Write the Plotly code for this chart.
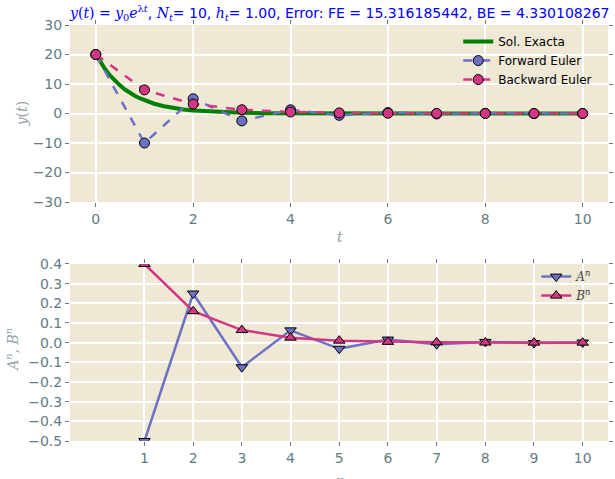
import plotly.graph_objects as go
from plotly.subplots import make_subplots

# ---- data ----
t_nodes = [0, 1, 2, 3, 4, 5, 6, 7, 8, 9, 10]
fe_vals = [20.0, -10.0, 5.0, -2.5, 1.25, -0.625, 0.3125, -0.15625, 0.078125, -0.0390625, 0.01953125]
be_vals = [20.0, 8.0, 3.2, 1.28, 0.512, 0.2048, 0.08192, 0.032768, 0.0131072, 0.00524288, 0.002097152]

t_exact = [0.0, 0.1, 0.2, 0.3, 0.4, 0.5, 0.6, 0.7, 0.8, 0.9, 1.0, 1.2, 1.4, 1.6, 1.8, 2.0,
           2.5, 3.0, 3.5, 4.0, 5.0, 6.0, 7.0, 8.0, 9.0, 10.0]
y_exact = [20.0, 17.21, 14.82, 12.75, 10.98, 9.45, 8.13, 7.00, 6.02, 5.18, 4.46, 3.31, 2.45,
           1.81, 1.34, 1.00, 0.47, 0.22, 0.105, 0.05, 0.011, 0.0025, 0.0006, 0.0001, 0.0, 0.0]

n_vals = [1, 2, 3, 4, 5, 6, 7, 8, 9, 10]
A_vals = [-0.5, 0.25, -0.125, 0.0625, -0.03125, 0.015625, -0.0078125, 0.00390625, -0.001953125, 0.0009765625]
B_vals = [0.4, 0.16, 0.064, 0.0256, 0.01024, 0.004096, 0.0016384, 0.00065536, 0.000262144, 0.0001048576]

top_yticks = [-30, -20, -10, 0, 10, 20, 30]
top_xticks = [0, 2, 4, 6, 8, 10]
bot_yticks = [-0.5, -0.4, -0.3, -0.2, -0.1, 0.0, 0.1, 0.2, 0.3, 0.4]

# ---- style ----
BG = "#eee8d5"
TICK = "#657b83"
LABEL = "#93a1a1"
VIOLET = "#6c71c4"
MAGENTA = "#d33682"
GREEN = "#008000"
SERIF = "DejaVu Serif"

fig = make_subplots(rows=2, cols=1, vertical_spacing=0.149)

fig.add_trace(go.Scatter(x=t_exact, y=y_exact, mode="lines", name="Sol. Exacta",
                         line=dict(color=GREEN, width=4)), row=1, col=1)
fig.add_trace(go.Scatter(x=t_nodes, y=fe_vals, mode="lines+markers", name="Forward Euler",
                         line=dict(color=VIOLET, width=2.5, dash="dash"),
                         marker=dict(symbol="circle", size=10, color=VIOLET,
                                     line=dict(color="black", width=1))), row=1, col=1)
fig.add_trace(go.Scatter(x=t_nodes, y=be_vals, mode="lines+markers", name="Backward Euler",
                         line=dict(color=MAGENTA, width=2.5, dash="dash"),
                         marker=dict(symbol="circle", size=10, color=MAGENTA,
                                     line=dict(color="black", width=1))), row=1, col=1)

fig.add_trace(go.Scatter(x=n_vals, y=A_vals, mode="lines+markers",
                         name=f"<span style='font-family:{SERIF}'><i>A</i><sup><i>n</i></sup></span>",
                         line=dict(color=VIOLET, width=2.5),
                         marker=dict(symbol="triangle-down", size=10, color=VIOLET,
                                     line=dict(color="black", width=1)),
                         legend="legend2"), row=2, col=1)
fig.add_trace(go.Scatter(x=n_vals, y=B_vals, mode="lines+markers",
                         name=f"<span style='font-family:{SERIF}'><i>B</i><sup><i>n</i></sup></span>",
                         line=dict(color=MAGENTA, width=2.5),
                         marker=dict(symbol="triangle-up", size=10, color=MAGENTA,
                                     line=dict(color="black", width=1)),
                         legend="legend2"), row=2, col=1)

axis_common = dict(showgrid=True, gridcolor="white", gridwidth=1.5, zeroline=False,
                   ticks="outside", ticklen=4, tickcolor=TICK, tickwidth=1,
                   mirror="ticks", showline=False, automargin=False,
                   tickfont=dict(family="DejaVu Sans", size=14, color=TICK))

fig.update_xaxes(**axis_common)
fig.update_yaxes(**axis_common)

fig.update_xaxes(range=[-0.53, 10.52], tickvals=top_xticks, row=1, col=1)
fig.update_yaxes(range=[-30, 30], tickvals=top_yticks, row=1, col=1)
fig.update_xaxes(range=[-0.53, 10.52], tickvals=n_vals, row=2, col=1)
fig.update_yaxes(range=[-0.5, 0.4], tickvals=bot_yticks, tickformat=".1f", row=2, col=1)

label_font = dict(family=SERIF, size=14, color=LABEL)
axis_titles = [
    ("<i>t</i>", 0.502, 0.490, 0, "center", "middle"),
    ("<i>n</i>", 0.502, -0.072, 0, "center", "top"),
    ("<i>y</i>(<i>t</i>)", -0.089, 0.788, -90, "center", "middle"),
    ("<i>A</i><sup><i>n</i></sup>, <i>B</i><sup><i>n</i></sup>", -0.108, 0.219, -90, "center", "middle"),
]
for txt, ax_x, ax_y, ang, xa, ya in axis_titles:
    fig.add_annotation(text=txt, xref="paper", yref="paper", x=ax_x, y=ax_y,
                       xanchor=xa, yanchor=ya, textangle=ang, showarrow=False,
                       font=label_font)

title_txt = (f"<span style='font-family:{SERIF}'><i>y</i>(<i>t</i>) = <i>y</i><sub>0</sub><i>e</i><sup>λ<i>t</i></sup></span>, "
             f"<span style='font-family:{SERIF}'><i>N</i><sub><i>t</i></sub></span>= 10, "
             f"<span style='font-family:{SERIF}'><i>h</i><sub><i>t</i></sub></span>= 1.00, "
             "Error: FE = 15.316185442, BE = 4.330108267")

fig.add_annotation(text=title_txt, xref="paper", yref="paper", x=-0.006, y=1.0,
                   xanchor="left", yanchor="bottom", yshift=0, showarrow=False,
                   font=dict(family="DejaVu Sans", size=14, color="blue"))

fig.update_layout(
    width=615, height=479,
    margin=dict(l=70, r=7, t=25, b=38),
    paper_bgcolor="white", plot_bgcolor=BG,
    font=dict(family="DejaVu Sans", color=TICK),
    showlegend=True,
    legend=dict(x=0.98, y=0.995, xanchor="right", yanchor="top", bgcolor="rgba(0,0,0,0)",
                font=dict(size=12, color="black"), tracegroupgap=0, itemwidth=30),
    legend2=dict(x=0.98, y=0.43, xanchor="right", yanchor="top", bgcolor="rgba(0,0,0,0)",
                 font=dict(size=12, color="#444"), itemwidth=30),
)

fig.write_html("out.html")
